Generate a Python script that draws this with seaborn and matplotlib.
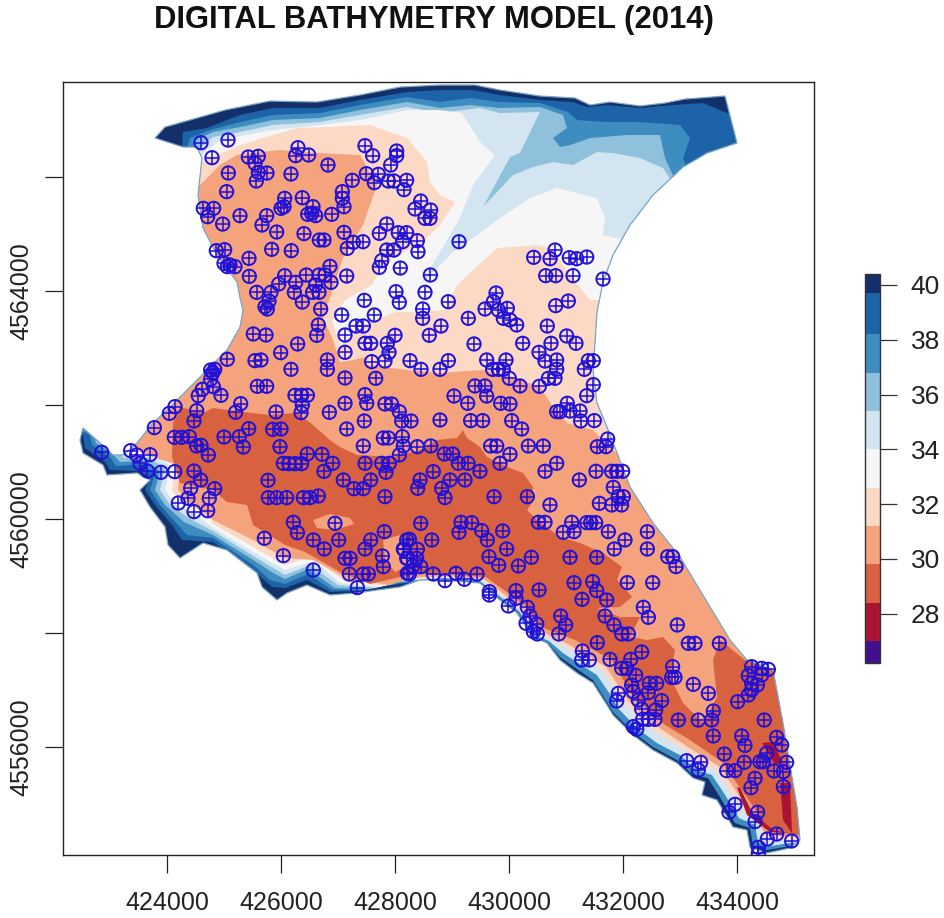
import numpy as np
import pandas as pd
import matplotlib
matplotlib.use("Agg")
import matplotlib.pyplot as plt
from matplotlib.colors import BoundaryNorm, ListedColormap
from matplotlib.colorbar import ColorbarBase
from matplotlib.patches import Polygon
import seaborn as sns

# chart values, all in map metres
x_ticks = [424000, 426000, 428000, 430000, 432000, 434000]
y_ticks = [4556000, 4558000, 4560000, 4562000, 4564000, 4566000]
y_tick_labels = ["4556000", "", "4560000", "", "4564000", ""]
bar_ticks = [28, 30, 32, 34, 36, 38, 40]
levels = [26.2, 27.0, 28.4, 29.8, 31.2, 32.6, 34.0, 35.4, 36.8, 38.2, 39.7, 40.4]
band_colors = ["#42108f", "#ab1332", "#d8623f", "#f4a37c", "#fbd9c5", "#f6f6f6",
               "#d2e5f1", "#8fc1dc", "#3e8dc0", "#1d63a8", "#14306b"]

# shoreline, clockwise from the north-west tip
coast = [(423789,4566684),(423965,4566877),(424526,4567035),(425018,4567175),(425807,4567333),
    (426632,4567316),(427386,4567439),(428088,4567579),(428790,4567614),(429404,4567614),
    (429842,4567526),(430544,4567421),(431158,4567386),(431421,4567263),(431772,4567316),
    (432298,4567246),(432737,4567298),(433088,4567368),(433790,4567421),(434000,4566597),
    (433474,4566421),(433053,4566175),(432526,4565684),(432123,4565158),(431825,4564632),
    (431649,4564158),(431544,4563632),(431509,4563088),(431474,4562614),(431544,4562035),
    (431719,4561614),(431895,4561158),(432123,4560561),(432526,4559930),(433000,4559333),
    (433877,4557877),(434175,4557526),(434632,4557351),(434807,4556421),(435053,4554947),
    (435105,4554368),(434930,4554228),(434526,4554140),(434228,4554246),(434175,4554544),
    (433930,4554596),(433754,4554895),(433649,4555070),(433386,4555158),(433439,4555386),
    (433228,4555456),(432947,4555719),(432526,4555947),(432175,4556211),(431825,4556561),
    (431719,4556737),(431474,4557123),(431193,4557298),(430895,4557526),(430667,4557825),
    (430421,4557930),(430140,4558351),(429842,4558579),(429491,4558877),(428842,4558930),
    (428439,4558930),(428088,4558807),(427684,4558754),(427333,4558702),(426860,4558667),
    (426456,4558842),(426105,4558702),(425930,4558579),(425667,4558807),(425579,4559053),
    (425053,4559456),(424632,4559579),(424228,4559316),(424018,4559544),(423965,4559860),
    (423702,4560211),(423526,4560509),(423702,4560684),(423474,4560807),(422947,4560772),
    (422877,4560947),(422526,4561158),(422474,4561386),(422526,4561596),(422825,4561333),
    (423053,4561123),(423228,4561123),(423474,4561333),(423754,4561684),(424053,4561965),
    (424579,4562491),(425053,4562965),(425281,4563368),(425333,4563667),(425281,4563877),
    (425228,4564158),(424877,4564632),(424632,4565105),(424544,4565684),(424614,4566333),
    (424526,4566526),(424281,4566526)]

# contour lines on the north side, east to west
north_397 = [(434404,4567123),(433825,4567123),(433404,4567298),(432877,4567263),(432298,4567211),
    (431719,4567263),(431368,4567228),(431123,4567316),(430544,4567351),(429842,4567439),
    (429368,4567526),(428790,4567526),(428211,4567491),(427386,4567351),(426684,4567211),
    (425860,4567211),(425281,4567088),(424702,4566860),(424281,4566789),(424263,4566509)]
north_382 = [(433175,4565982),(433053,4566333),(433175,4566684),(433000,4566912),(432298,4566965),
    (431719,4566965),(431193,4567000),(431035,4567140),(430544,4567298),(429842,4567316),
    (429316,4567386),(428790,4567316),(428211,4567404),(427386,4567263),(426684,4567123),
    (425860,4567088),(425281,4566965),(424754,4566825),(424404,4566684),(424351,4566474)]
north_368 = [(432912,4565947),(432737,4566333),(432649,4566737),(432070,4566737),(431421,4566684),
    (431070,4566561),(430895,4566526),(430772,4566684),(431018,4566860),(430947,4567088),
    (430544,4567228),(429842,4567211),(429316,4567263),(428790,4567211),(428211,4567316),
    (427386,4567175),(426684,4567035),(425860,4567000),(425281,4566877),(424807,4566789),
    (424491,4566649),(424526,4566474)]
north_354 = [(432860,4565912),(432702,4566158),(432298,4566333),(431825,4566421),(431544,4566439),
    (431123,4566211),(430772,4566263),(430421,4566175),(430070,4566035),(429544,4565474),
    (430018,4566351),(430193,4566421),(430491,4567035),(430544,4567140),(429842,4567123),
    (429491,4567211),(428790,4567123),(428211,4567228),(427386,4567088),(426684,4566965),
    (425860,4566912),(425281,4566789),(424807,4566702),(424579,4566509)]
north_340 = [(432035,4564895),(431649,4564982),(431684,4565281),(431544,4565632),(430842,4565807),
    (430368,4565632),(429842,4565281),(429368,4564930),(429018,4564684),(428439,4564105),
    (428790,4564684),(429140,4565281),(429368,4565860),(429754,4566386),(429491,4566614),
    (429175,4567123),(428790,4567175),(428211,4567175),(427386,4567000),(426684,4566912),
    (425860,4566825),(425281,4566719),(424877,4566614),(424667,4566439)]
north_326 = [(432298,4563842),(431421,4563842),(431070,4564281),(430772,4564719),(430544,4564807),
    (429790,4564754),(429088,4564105),(428877,4563667),(428439,4563632),(428000,4563632),
    (427474,4563404),(427035,4563053),(426895,4563491),(427123,4563842),(427596,4564105),
    (427825,4564509),(428491,4564860),(428790,4565158),(429053,4565561),(428790,4565684),
    (428614,4565912),(428561,4566263),(428211,4566684),(427561,4566912),(426807,4566877),
    (426281,4566860),(425281,4566561),(424667,4566298),(424404,4566035)]
north_312 = [(432649,4560772),(432298,4560772),(431825,4561211),(431474,4561561),(431018,4561684),
    (430772,4561965),(430544,4562316),(430070,4562491),(429544,4562614),(428790,4562561),
    (428211,4562614),(427509,4562702),(427474,4562842),(427263,4562789),(427035,4562754),
    (426912,4563140),(426737,4563526),(426860,4563877),(427088,4564579),(427439,4565158),
    (427684,4565860),(427386,4566386),(426632,4566421),(425982,4566474),(425228,4566386),
    (424930,4566211),(424579,4565860),(424228,4565772)]
north_298 = [(434930,4557386),(434140,4557526),(433702,4557877),(433579,4557526),(433649,4556877),
    (433404,4556421),(433053,4556772),(432825,4557228),(432912,4557702),(432702,4557930),
    (432421,4557877),(432123,4557930),(432298,4558281),(431947,4558281),(431544,4558439),
    (431947,4558456),(432158,4558632),(431895,4558930),(431982,4559158),(431649,4559404),
    (431246,4559579),(430895,4559684),(430491,4559982),(430316,4560158),(430404,4560281),
    (430421,4560561),(430246,4560807),(429965,4560912),(429614,4561088),(429491,4561263),
    (429263,4561421),(429193,4561561),(429088,4561421),(428737,4561386),(428439,4561211),
    (427965,4561088),(427333,4561123),(427035,4561263),(426860,4561386),(426561,4561649),
    (426281,4561860),(425807,4561825),(425333,4561877),(424807,4561947),(424632,4561860),
    (424228,4561965),(424105,4561684)]

# contour lines on the south-west side, west to east
south_397 = [(422526,4561474),(422561,4561246),(422912,4561000),(423000,4560860),(423526,4560842),
    (423702,4560719),(423614,4560509),(423789,4560246),(424088,4559895),(424263,4559632),
    (424807,4559596),(425509,4559105),(425842,4558807),(426070,4558789),
    (426456,4558930),(426860,4558719),(427386,4558737),(428088,4558860)]
south_382 = [(422649,4561474),(422684,4561298),(423000,4561088),(423105,4560930),(423561,4560965),
    (423789,4560789),(423702,4560509),(423877,4560246),(424193,4559895),(424351,4559719),
    (424807,4559667),(425509,4559193),(425807,4558930),(426070,4558860),(426474,4559035),
    (426895,4558754),(427474,4558754),(428088,4558877)]
south_368 = [(422702,4561509),(422754,4561333),(423053,4561140),(423175,4561000),(423614,4561018),
    (423877,4560842),(423789,4560509),(423965,4560246),(424298,4559947),(424807,4559719),
    (425509,4559281),(425895,4559035),(426070,4558947),(426474,4559123),(426947,4558789),
    (427561,4558772),(428088,4558895)]
south_354 = [(422754,4561561),(422825,4561386),(423123,4561193),(423246,4561070),(423667,4561070),
    (423965,4560895),(423877,4560509),(424053,4560246),(424404,4560000),(424807,4559789),
    (425509,4559351),(426070,4559018),(426509,4559193),(427000,4558842),
    (427649,4558789),(428088,4558912)]
south_340 = [(422825,4561596),(422912,4561421),(423211,4561228),(423351,4561105),(423737,4561123),
    (424053,4560947),(423965,4560509),(424158,4560246),(424491,4560088),(424807,4559842),
    (425509,4559421),(426070,4559105),(426596,4559263),(427035,4558877),
    (427737,4558807),(428088,4558930)]
south_326 = [(423000,4561561),(423105,4561298),(423316,4561211),(423526,4561158),(423842,4561175),
    (424158,4561000),(424088,4560509),(424281,4560246),(424667,4560193),(424807,4559912),
    (425509,4559509),(426070,4559193),(426509,4559333),(427123,4558912),(427825,4558825),
    (428088,4558947)]
south_312 = [(423439,4561298),(423649,4561123),(424228,4560930),(424193,4560509),(424404,4560281),
    (424807,4559982),(425509,4559632),(426070,4559316),(426561,4559281),
    (427175,4558947),(427912,4558842),(428263,4558965)]
south_298 = [(424088,4561088),(424228,4560632),(424807,4560509),(425053,4560298),(425404,4560246),
    (425509,4559895),(426070,4559544),(426421,4559421),(427035,4559070),(427561,4558860),
    (428088,4558982),(428439,4559035)]

# contour lines on the south-east shore, west to east
shore_a = [(428842,4558947),(429491,4558895),(429842,4558596),(430140,4558368),(430421,4557947),
    (430667,4557842),(430895,4557579),(431193,4557368),(431474,4557175),(431719,4556789),
    (431825,4556614),(432175,4556263),(432526,4556000),(432947,4555772),(433228,4555509),
    (433491,4555456),(433702,4555123),(433965,4554667),(434228,4554579),(434281,4554281),
    (434526,4554193),(434930,4554263),(435281,4554281)]
shore_b = [(428842,4558965),(429491,4558912),(429877,4558614),(430175,4558386),(430456,4557965),
    (430702,4557860),(430947,4557649),(431246,4557456),(431544,4557263),(431807,4556877),
    (431912,4556684),(432246,4556333),(432596,4556070),(433000,4555860),(433298,4555596),
    (433561,4555509),(433772,4555193),(434035,4554754),(434316,4554632),(434368,4554333),
    (434579,4554263),(434930,4554316),(435281,4554316)]
shore_c = [(428877,4558982),(429526,4558930),(429895,4558632),(430193,4558403),(430474,4558000),
    (430737,4557895),(431018,4557737),(431316,4557561),(431632,4557351),(431912,4556965),
    (432018,4556772),(432333,4556439),(432702,4556175),(433088,4555947),(433386,4555684),
    (433632,4555596),(433842,4555281),(434123,4554860),(434404,4554719),(434456,4554404),
    (434667,4554368),(434983,4554368),(435281,4554368)]
shore_d = [(428877,4559000),(429561,4558947),(429930,4558667),(430228,4558439),(430509,4558053),
    (431070,4557789),(431702,4557404),(432088,4556825),(432404,4556491),(433140,4556000),
    (433702,4555649),(434193,4554912),(434509,4554456),(435281,4554404)]
shore_e = [(428877,4559035),(429596,4558982),(429982,4558702),(430281,4558491),(430561,4558105),
    (431158,4557877),(431807,4557526),(432158,4556912),(432474,4556614),(432737,4556386),
    (433175,4556123),(433737,4555737),(434263,4554982),(434579,4554509),(435281,4554439)]

# lighter pockets inside the 28-30 band and the deepest red streaks
pocket_a = [(426561,4559982),(426860,4560088),(427211,4560018),(427281,4559912),(426947,4559807),(426632,4559842)]
pocket_b = [(427789,4559632),(428088,4559719),(428211,4559632),(428263,4559193),(428000,4559070),(427825,4559281)]
streak_a = [(434754,4555368),(434930,4555368),(434965,4554491),(434807,4554719)]
streak_b = [(434000,4555298),(434053,4555281),(434263,4554860),(434632,4554544),(434895,4554491),(434579,4554509),(434175,4554807)]
streak_c = [(434439,4556070),(434632,4556088),(434807,4555719),(434667,4555684)]

# sampling stations by area
stations_nw = [(424596,4566602),(425070,4566649),(424789,4566339),(425427,4566351),(425602,4566363),
    (425544,4566240),(426298,4566515),(426257,4566374),(426485,4566386),(426824,4566210),
    (427473,4566550),(427608,4566374),(428029,4566456),(428029,4566374),(427924,4566210),
    (425076,4566070),(425602,4566082),(425754,4566070),(425567,4565930),(426175,4566053),
    (427497,4566058),(427707,4566047),(427637,4565901),(427883,4565930),(427982,4565930),
    (428204,4565942),(428158,4565778),(427251,4565942),(425046,4565743),(427076,4565743),
    (427076,4565626),(427105,4565479),(426064,4565626),(426052,4565479),(426000,4565450),
    (426374,4565637),(426561,4565479),(426468,4565345),(426608,4565322),(426538,4565363),
    (426889,4565345),(424637,4565450),(424818,4565450),(424713,4565304),(425280,4565322),
    (425748,4565322),(425666,4565158),(424976,4565175),(425924,4565035),(426403,4565006),
    (426672,4564895),(426754,4564895),(427105,4565029),(427269,4564854),(427438,4564865),
    (427163,4564748),(424865,4564708),(425011,4564725),(425836,4564731),(426181,4564708),
    (425438,4564573),(425000,4564485),(425058,4564427),(425105,4564456),(425193,4564427),
    (426859,4564433),(425444,4564257),(426064,4564269),(425959,4564123),(426257,4564152),
    (426234,4563977),(426444,4564281),(426666,4564281),(426772,4564281),(426877,4564152),
    (427152,4564263),(426608,4564105),(426555,4563977),(426666,4563977),(425573,4563977),
    (425824,4563977),(425789,4563824),(425719,4563725),(425760,4563684),(426374,4563807),
    (426696,4563684),(428450,4565579),(428351,4565439),(428625,4565421),(428526,4565275),
    (428614,4565275),(427854,4565175),(427725,4565012),(428058,4565023),(428204,4565023),
    (428134,4564865),(428392,4564883),(428403,4564690),(427854,4564719),(427982,4564719),
    (427766,4564532),(427725,4564415),(428093,4564403),(428620,4564281),(428017,4563988),
    (428076,4563801),(428526,4563977),(428485,4563684),(427462,4563836),(428935,4563813),
    (427064,4563579),(427637,4563579)]
stations_ne = [(429123,4564865),(430433,4564591),(430808,4564719),(430720,4564567),(431059,4564585),
    (431188,4564567),(431363,4564596),(430644,4564269),(430819,4564269),(431123,4564269),
    (431650,4564210),(431041,4563824),(430819,4563743),(429772,4563965),(429726,4563813),
    (429579,4563684),(429813,4563667),(429971,4563696)]
stations_w = [(425514,4563246),(425737,4563228),(426655,4563404),(426626,4563223),(427123,4563228),
    (426292,4563071),(425994,4562918),(427123,4562924),(425058,4562802),(425544,4562778),
    (425649,4562790),(426813,4562790),(426175,4562626),(426813,4562626),(424766,4562614),
    (424836,4562626),(424801,4562568),(424766,4562451),(424813,4562322),(424620,4562275),
    (424549,4562164),(424947,4562170),(425585,4562328),(425748,4562328),(427123,4562474),
    (426245,4562170),(426362,4562170),(426462,4562170),(426374,4562000),(426351,4561866),
    (427123,4562030),(426848,4561872),(424140,4561971),(424041,4561854),(424520,4561901),
    (424473,4561720),(425292,4562024),(425204,4561872),(425912,4561878),(423778,4561603),
    (425433,4561585),(425854,4561573),(426000,4561579),(427152,4561579),(424128,4561433),
    (424257,4561433),(424392,4561445),(425000,4561439),(425269,4561445),(424520,4561281),
    (424596,4561293),(425339,4561263),(425982,4561269),(424725,4561123),(422854,4561170),
    (423362,4561199),(423468,4561123),(423702,4561129),(423526,4560977),(423655,4560842),
    (423894,4560819),(424134,4560831),(424473,4560842),(424590,4560685),(424415,4560538),
    (424836,4560532),(424742,4560363),(424368,4560363),(424199,4560281),(426041,4560977),
    (426140,4560971),(426245,4560971),(426362,4560971),(426462,4561141),(426719,4561135),
    (426906,4560977),(426754,4560837),(427093,4560685),(425772,4560679),(425778,4560375),
    (425924,4560375),(426099,4560375),(426392,4560375),(426509,4560375),(426655,4560404)]
stations_c = [(427316,4563386),(427444,4563386),(428485,4563521),(428807,4563386),(428602,4563223),
    (429286,4563521),(427865,4563082),(427474,4563082),(427573,4563082),(428000,4563223),
    (427895,4562924),(427824,4562772),(427591,4562761),(428263,4562778),(428456,4562626),
    (428789,4562626),(428936,4562778),(429386,4563071),(429608,4562790),(429947,4562790),
    (429713,4562626),(429813,4562626),(429900,4562626),(430006,4562468),(430193,4562334),
    (430240,4563082),(430017,4563492),(429900,4563521),(430134,4563404),(430672,4563386),
    (431012,4563211),(431175,4563082),(430737,4563082),(430526,4562924),(430632,4562772),
    (430836,4562790),(430836,4562626),(430807,4562468),(430690,4562468),(430532,4562328),
    (431322,4562626),(431392,4562778),(431479,4562778),(431479,4562357),(431363,4562164),
    (431023,4562030),(430836,4561883),(430895,4561883),(431070,4561895),(431246,4561895),
    (431257,4561720),(431497,4561726),(431731,4561404),(431550,4561269),(431702,4561269),
    (427661,4562468),(427474,4562182),(427503,4562030),(427824,4562018),(427941,4562018),
    (428076,4561883),(428117,4561720),(428281,4561720),(427462,4561720),(427795,4561421),
    (427883,4561421),(428129,4561445),(428146,4561281),(428392,4561269),(428626,4561281),
    (428076,4561123),(427444,4561281),(428789,4561737),(429035,4562158),(429275,4562030),
    (429403,4562334),(429579,4562334),(429608,4562158),(429854,4562030),(430017,4562018),
    (429327,4561726),(429538,4561726),(430047,4561726),(430222,4561579),(430339,4561281),
    (430602,4561281),(429678,4561281),(429784,4561281),(430017,4561135),(429842,4560977),
    (429491,4560837),(429281,4560977),(429111,4560977),(429012,4561141),(428865,4561141),
    (428672,4560831),(428965,4560685),(429228,4560685),(428439,4560685),(428398,4560538),
    (428819,4560538),(428877,4560375),(427824,4560392),(429737,4560392),(430322,4560392),
    (430719,4560246),(430632,4560837),(430836,4560977),(431234,4560685),(431526,4560837),
    (431801,4560837),(431889,4560837),(431994,4560837),(431830,4560556),(431918,4560392),
    (432006,4560392),(431585,4560275),(431801,4560246),(431976,4560246),(427474,4560977),
    (427766,4560977),(427900,4560977),(427842,4560819),(427573,4560685),(427444,4560532),
    (427281,4560532)]
stations_s = [(424474,4560129),(424714,4560146),(426216,4559942),(426287,4559760),(426947,4559924),
    (427813,4559778),(425708,4559661),(426567,4559632),(427012,4559632),(427573,4559632),
    (426760,4559474),(427474,4559474),(426041,4559357),(427123,4559310),(427211,4559310),
    (427778,4559351),(427795,4559164),(428205,4559632),(428146,4559474),(428216,4559310),
    (428216,4559047),(426567,4559105),(427199,4559035),(427445,4559035),(427532,4559035),
    (427339,4558796)]
stations_sc = [(428451,4559924),(429158,4559942),(429345,4559936),(429123,4559766),(429521,4559796),
    (429620,4559632),(429889,4559790),(428644,4559632),(428252,4559644),(428158,4559468),
    (428392,4559468),(428205,4559310),(428380,4559310),(428310,4559176),(428451,4559164),
    (428252,4559035),(428673,4559035),(428877,4558918),(429070,4559047),(429217,4558942),
    (429439,4559035),(429959,4559474),(429649,4559339),(429819,4559187),(430164,4559176),
    (430392,4559328),(429655,4558725),(429655,4558666),(430123,4558743),(430123,4558608),
    (429989,4558474),(430527,4558755),(430322,4558451),(430369,4558298),(430299,4558170),
    (430486,4558158),(430427,4558024),(430497,4557983),(430907,4558298),(430994,4558141),
    (430872,4557983),(431070,4559328),(431538,4559328),(431141,4558883),(431468,4558901),
    (431538,4558743),(431281,4558591),(431714,4558579),(431685,4558298),(431842,4558141),
    (431977,4557983),(432094,4557983),(431550,4557831),(431287,4557684),(431275,4557527),
    (431410,4557527),(431772,4557538),(432328,4557667),(432135,4557538),(431977,4557380),
    (432064,4557380),(432223,4557257),(432445,4558275),(432357,4558451),(432076,4558883),
    (432521,4558883),(431848,4559474),(432035,4559632),(432427,4559778),(432427,4559474),
    (432784,4559339),(432872,4559339),(432930,4559164),(431743,4559778),(430953,4559766),
    (431100,4559942),(431141,4559778),(431363,4559936),(431433,4559936),(431521,4559936),
    (430515,4559942),(430632,4559942),(432953,4558141)]
stations_se = [(433146,4557819),(433263,4557819),(433690,4557819),(432871,4557409),(432854,4557222),
    (432912,4557222),(433234,4557099),(433497,4556941),(434012,4556795),(433585,4556631),
    (433555,4556473),(433321,4556473),(432971,4556473),(433585,4556193),(434082,4556193),
    (434140,4556029),(434479,4556473),(434696,4556169),(434784,4556035),(434520,4555889),
    (434403,4555742),(434462,4555742),(434128,4555731),(433778,4555877),(434871,4555731),
    (434649,4555579),(434813,4555567),(434813,4555304),(434316,4555450),(434245,4555286),
    (433819,4555585),(433965,4555585),(433117,4555760),(433362,4555731),(433321,4555596),
    (433965,4554994),(433859,4554854),(434362,4554854),(434316,4554690),(434696,4554473),
    (434532,4554386),(434959,4554351),(434374,4554240),(434374,4554134),(434257,4557409),
    (434433,4557380),(434550,4557362),(434199,4557251),(434433,4557263),(434257,4557117),
    (434357,4557088),(434257,4557000),(434199,4556912),(432152,4557088),(431918,4556941),
    (431889,4556807),(432181,4556971),(432462,4557117),(432590,4557117),(432444,4556953),
    (432269,4556824),(432678,4556813),(432327,4556667),(432573,4556649),(432345,4556485),
    (432444,4556485),(432561,4556485),(432181,4556357),(432240,4556310)]

west_out = [(422123,4563842),(422123,4561737)]
east_out = 435700

sns.set_style("white")
plt.rcParams["font.family"] = ["Liberation Sans", "DejaVu Sans"]

fig = plt.figure(figsize=(9.45, 9.18), dpi=100)
ax = fig.add_axes([63/945, 63/918, 751/945, 773/918])

land = Polygon(coast, closed=True, facecolor=band_colors[10], edgecolor="none", zorder=1)
ax.add_patch(land)

layers = [
    (band_colors[9], north_397, west_out, south_397, shore_a),
    (band_colors[8], north_382, west_out, south_382, shore_a),
    (band_colors[7], north_368, west_out, south_368, shore_b),
    (band_colors[6], north_354, west_out, south_354, shore_b),
    (band_colors[5], north_340, west_out, south_340, shore_c),
    (band_colors[4], north_326, west_out, south_326, shore_c),
    (band_colors[3], north_312, west_out, south_312, shore_d),
    (band_colors[2], north_298, [], south_298, shore_e),
]
z = 2
for color, north, west, south, shore in layers:
    ring = north + west + south + shore + [(east_out, shore[-1][1]), (east_out, north[0][1])]
    patch = Polygon(ring, closed=True, facecolor=color, edgecolor="none", zorder=z)
    ax.add_patch(patch)
    patch.set_clip_path(land)
    z += 1

for shape, color in [(pocket_a, band_colors[3]), (pocket_b, band_colors[3]),
                     (streak_a, band_colors[1]), (streak_b, band_colors[1]), (streak_c, band_colors[1])]:
    patch = Polygon(shape, closed=True, facecolor=color, edgecolor="none", zorder=z)
    ax.add_patch(patch)
    patch.set_clip_path(land)

ax.add_patch(Polygon(coast, closed=True, fill=False, edgecolor="#7ba6c6", linewidth=0.9, zorder=z + 1))

stations = stations_nw + stations_ne + stations_w + stations_c + stations_s + stations_sc + stations_se
df = pd.DataFrame(stations, columns=["easting", "northing"])
sns.scatterplot(data=df, x="easting", y="northing", ax=ax, marker="o", s=92, facecolor="none",
                edgecolor="#2010d8", linewidth=1.4, zorder=z + 2, legend=False)
sns.scatterplot(data=df, x="easting", y="northing", ax=ax, marker="+", s=92, color="#2010d8",
                linewidth=1.1, zorder=z + 3, legend=False)

ax.set_xlim(422175, 435351)
ax.set_ylim(4554105, 4567667)
ax.set_xlabel("")
ax.set_ylabel("")
ax.set_xticks(x_ticks)
ax.set_xticklabels([str(v) for v in x_ticks])
ax.set_yticks(y_ticks)
ax.set_yticklabels(y_tick_labels, rotation=90, va="center")
ax.tick_params(axis="both", length=13, width=0.9, color="#222222", labelcolor="#222222",
               labelsize=18, bottom=True, left=True)
ax.tick_params(axis="x", pad=13)
ax.tick_params(axis="y", pad=8)
for side in ax.spines.values():
    side.set_visible(True)
    side.set_color("#222222")
    side.set_linewidth(1.0)

cax = fig.add_axes([865/945, (918-663)/918, 15/945, 389/918])
cmap = ListedColormap(band_colors)
norm = BoundaryNorm(levels, cmap.N)
bar = ColorbarBase(cax, cmap=cmap, norm=norm, spacing="proportional", ticks=bar_ticks, orientation="vertical")
bar.ax.minorticks_off()
bar.ax.tick_params(length=12, width=0.9, color="#333333", labelcolor="#222222", labelsize=19, pad=10)
bar.ax.set_yticklabels([str(v) for v in bar_ticks])
bar.outline.set_edgecolor("#333333")
bar.outline.set_linewidth(1.0)

fig.text(434/945, 1 - 20/918, "DIGITAL BATHYMETRY MODEL (2014)", ha="center", va="center",
         fontsize=22.3, fontweight="bold", color="#111111")

fig.savefig("out.png", dpi=100, facecolor="white")
